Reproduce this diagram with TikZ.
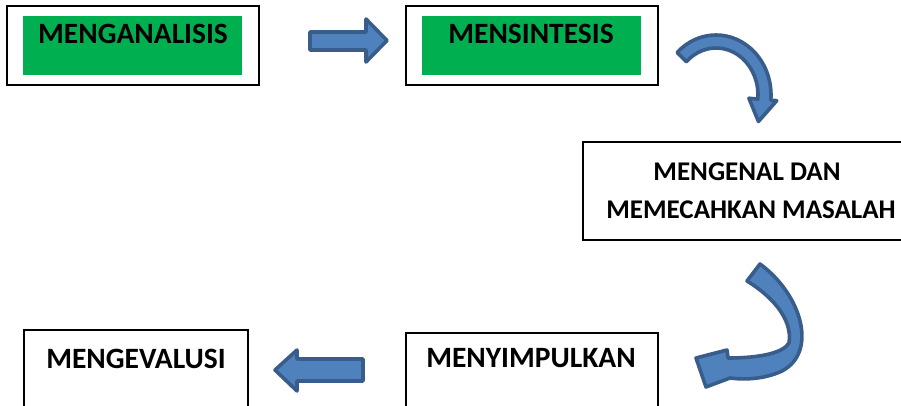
\documentclass[tikz,border=0pt]{standalone}
\usepackage{fontspec}
\setmainfont{Carlito}
\definecolor{stepgreen}{HTML}{00B050}
\definecolor{arrowblue}{HTML}{4F81BD}
\definecolor{arrowedge}{HTML}{385D8A}
\begin{document}
\begin{tikzpicture}[x=1pt,y=-1pt,
  frame/.style={draw=black,line width=1.3pt,fill=white,inner sep=0pt},
  greenbar/.style={fill=stepgreen,draw=none,inner sep=0pt},
  steplabel/.style={font=\fontsize{29.5}{35}\selectfont\bfseries,anchor=base,inner sep=0pt},
  widelabel/.style={steplabel,font=\fontsize{27}{33}\selectfont\bfseries},
  blockarrow/.style={fill=arrowblue,draw=arrowedge,line width=3.6pt,line join=round}]
\useasboundingbox (0,0) rectangle (901,406);
\clip (0,0) rectangle (901,406);

% step boxes
\node[frame,minimum width=252,minimum height=79] (b1) at (133,45.5) {};
\node[greenbar,minimum width=219,minimum height=59] (g1) at (132.5,45.5) {};
\node[frame,minimum width=252,minimum height=79] (b2) at (532,45.5) {};
\node[greenbar,minimum width=219,minimum height=59] (g2) at (531.5,45.5) {};
\node[frame,minimum width=322,minimum height=98] (b3) at (744,191) {};
\node[frame,minimum width=252,minimum height=90] (b5) at (532,378) {};
\node[frame,minimum width=224,minimum height=92] (b6) at (136,376) {};

% labels
\node[steplabel] (t1) at (133,44) {MENGANALISIS};
\node[steplabel] (t2) at (531,44) {MENSINTESIS};
\node[widelabel] (t3a) at (747,180) {MENGENAL DAN};
\node[widelabel] (t3b) at (751,218) {MEMECAHKAN MASALAH};
\node[steplabel] (t5) at (531,367) {MENYIMPULKAN};
\node[steplabel] (t6) at (136,368) {MENGEVALUSI};

% straight block arrows
\draw[blockarrow] (310,32) -- (366,32) -- (366,19) -- (387,40.5) -- (366,62) -- (366,50) -- (310,50) -- cycle;
\draw[blockarrow] (275,370) -- (297,350) -- (297,359) -- (363,359) -- (363,381) -- (297,381) -- (297,391) -- cycle;

% curved arrow from MENSINTESIS down to the problem box
\begin{scope}[shift={(716,95)}]
\draw[blockarrow] (-135:55 and 60) arc[start angle=-135,end angle=5,x radius=55,y radius=60]
  -- (5:61 and 65) -- (30:49 and 53) -- (5:33 and 37) -- (5:42 and 47)
  arc[start angle=5,end angle=-135,x radius=42,y radius=47] -- cycle;
\end{scope}

% curved arrow from the problem box round to MENYIMPULKAN
\draw[blockarrow] (760,264) .. controls (802,295) and (818,352) .. (782,371)
  .. controls (765,379) and (745,380) .. (730,378) -- (706,387) -- (696,358) -- (727,350)
  -- (728,358) .. controls (760,358) and (783,353) .. (789,343)
  .. controls (793,318) and (770,295) .. (747,281) -- cycle;
\end{tikzpicture}
\end{document}
